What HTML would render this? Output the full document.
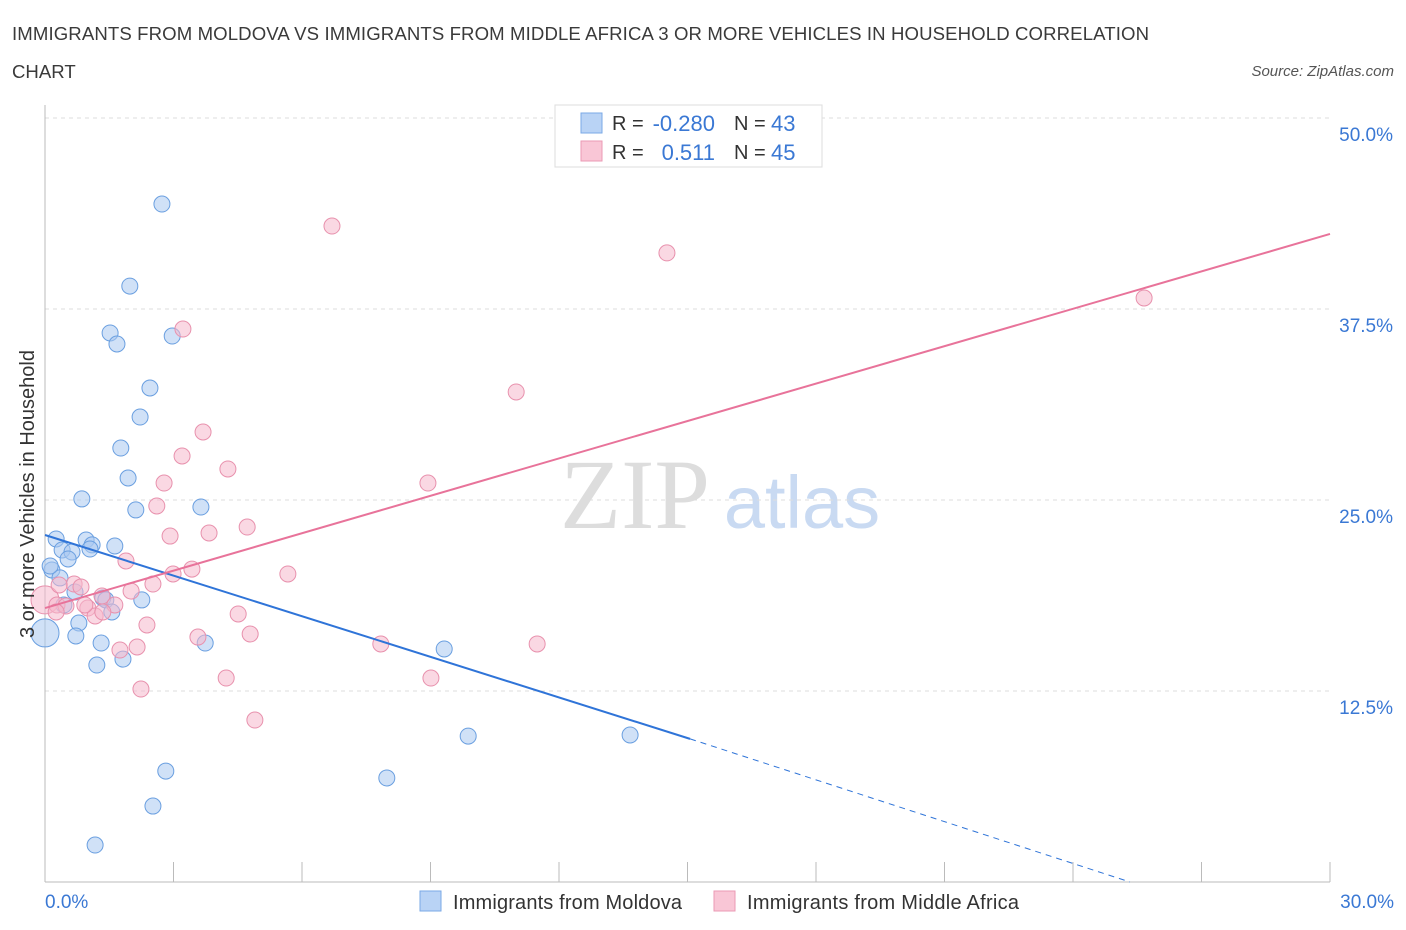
<!DOCTYPE html>
<html><head><meta charset="utf-8"><style>
body{margin:0;background:#fff;font-family:"Liberation Sans",sans-serif;}
svg{display:block}
</style></head><body>
<svg id="chart" width="1406" height="930">
<text x="12" y="40" font-size="18.6" fill="#3a3a3a" textLength="1137">IMMIGRANTS FROM MOLDOVA VS IMMIGRANTS FROM MIDDLE AFRICA 3 OR MORE VEHICLES IN HOUSEHOLD CORRELATION</text>
<text x="12" y="78" font-size="18.6" fill="#3a3a3a">CHART</text>
<text x="1394" y="76" font-size="15" fill="#555" font-style="italic" text-anchor="end">Source: ZipAtlas.com</text>
<text x="635" y="528" font-size="100" fill="#ddd" font-family="Liberation Serif,serif" text-anchor="middle">ZIP</text>
<text x="802" y="528" font-size="74" fill="#c9daf2" text-anchor="middle">atlas</text>
<g id="grid"></g><g id="marks"></g>
<text transform="translate(34,494) rotate(-90)" font-size="20" fill="#333" text-anchor="middle">3 or more Vehicles in Household</text>
<text x="45" y="908" font-size="19" fill="#3a78d4">0.0%</text>
<text x="1394" y="908" font-size="19" fill="#3a78d4" text-anchor="end">30.0%</text>
<g>
<rect x="555" y="105" width="267" height="62" fill="#fff" stroke="#ddd"/>
<rect x="581" y="113" width="21" height="20" fill="#b9d3f5" stroke="#7aa8e6"/>
<rect x="581" y="141" width="21" height="20" fill="#f9c6d6" stroke="#eb9ab4"/>
<text x="612" y="130" font-size="20" fill="#333">R =</text><text x="715" y="131" font-size="22" fill="#3a78d4" text-anchor="end">-0.280</text>
<text x="734" y="130" font-size="20" fill="#333">N =</text><text x="771" y="131" font-size="22" fill="#3a78d4">43</text>
<text x="612" y="159" font-size="20" fill="#333">R =</text><text x="715" y="160" font-size="22" fill="#3a78d4" text-anchor="end">0.511</text>
<text x="734" y="159" font-size="20" fill="#333">N =</text><text x="771" y="160" font-size="22" fill="#3a78d4">45</text>
</g>
<g>
<rect x="420" y="891" width="21" height="20" fill="#b9d3f5" stroke="#7aa8e6"/>
<text x="453" y="909" font-size="20" fill="#333" textLength="229">Immigrants from Moldova</text>
<rect x="714" y="891" width="21" height="20" fill="#f9c6d6" stroke="#eb9ab4"/>
<text x="747" y="909" font-size="20" fill="#333" textLength="272">Immigrants from Middle Africa</text>
</g>
</svg>
<script>
const yTicks=[12.5,25,37.5,50];
const yTickLabels=["12.5%","25.0%","37.5%","50.0%"];
const blueX=[2.73,1.98,1.52,1.68,2.97,2.45,2.22,1.77,1.94,0.86,2.12,3.64,0.26,0.40,0.63,0.54,0.96,1.10,1.05,1.63,0.16,0.35,0.70,1.35,1.42,2.26,1.56,0.44,0.79,0.72,0,1.31,3.74,1.21,1.82,9.32,9.88,13.66,2.82,7.98,2.52,1.17,0.12];
const blueY=[44.37,39.0,35.93,35.21,35.73,32.33,30.43,28.40,26.44,25.07,24.35,24.54,22.45,21.73,21.60,21.14,22.38,22.06,21.79,21.99,20.42,19.90,18.98,18.59,18.46,18.46,17.67,18.13,16.95,16.10,16.30,15.64,15.64,14.20,14.59,15.25,9.55,9.62,7.26,6.81,4.97,2.42,20.68];
const pinkX=[6.70,14.52,25.66,3.22,11.00,3.69,3.20,4.27,2.78,8.94,2.61,2.92,3.83,4.72,1.89,2.99,3.43,5.67,0.68,0.84,2.52,2.01,1.33,0,0.28,0.49,1.00,1.63,1.17,4.51,0.26,1.35,2.38,3.57,4.79,7.84,11.49,1.75,2.15,4.23,9.01,2.24,4.90,0.33,0.93];
const pinkY=[42.93,41.17,38.22,36.19,32.07,29.45,27.88,27.03,26.11,26.11,24.61,22.64,22.84,23.23,21.01,20.16,20.48,20.16,19.50,19.31,19.50,19.04,18.72,18.46,18.13,18.06,17.93,18.13,17.41,17.54,17.67,17.67,16.82,16.03,16.23,15.58,15.58,15.18,15.38,13.35,13.35,12.63,10.60,19.44,18.13];
const blueTrend=[22.71,-0.886,15.06,25.33]; // intercept, slope, solid end, dashed end
const pinkTrend=[17.93,0.8160];
const X=v=>45+v*1285/30, Y=v=>882-v*764/50;
const NS="http://www.w3.org/2000/svg";
const grid=document.getElementById('grid'), marks=document.getElementById('marks');
function mk(p,tag,a){const e=document.createElementNS(NS,tag);for(const k in a)e.setAttribute(k,a[k]);p.appendChild(e);return e;}
yTicks.forEach((t,i)=>{
 const l=mk(grid,'line',{x1:45,x2:1330,y1:Y(t),y2:Y(t),stroke:'#ddd','stroke-dasharray':'4,4'});
 
 
 const tx=mk(grid,'text',{x:1393,y:Y(t)+23,'font-size':19,fill:'#3a78d4','text-anchor':'end'});tx.textContent=yTickLabels[i];
 
 
});
const ax=mk(grid,'line',{x1:45,x2:45,y1:105,y2:882,stroke:'#bbb'});


const bx=mk(grid,'line',{x1:45,x2:1330,y1:882,y2:882,stroke:'#bbb'});


for(let i=0;i<=10;i++){const t=mk(grid,'line',{x1:X(i*3),x2:X(i*3),y1:862,y2:882,stroke:'#bbb'});
 
 }
function pts(xs,ys,fill,stroke,name){xs.forEach((x,i)=>{const r=x===0?14:8;
 const c=mk(marks,'circle',{cx:X(x),cy:Y(ys[i]),r:r,fill:fill,'fill-opacity':0.55,stroke:stroke,'stroke-width':1});
 
 });}
pts(blueX,blueY,'#a9c8f0','#6a9fe0','moldova-point');
pts(pinkX,pinkY,'#f5b8cc','#e891ad','middle-africa-point');
const bEnd=blueTrend[2], bZero=blueTrend[3];
const l1=mk(marks,'line',{x1:X(0),y1:Y(blueTrend[0]),x2:X(bEnd),y2:Y(blueTrend[0]+blueTrend[1]*bEnd),stroke:'#2f74d8','stroke-width':2});


const l2=mk(marks,'line',{x1:X(bEnd),y1:Y(blueTrend[0]+blueTrend[1]*bEnd),x2:X(bZero),y2:Y(0),stroke:'#2f74d8','stroke-width':1,'stroke-dasharray':'6,5'});


const l3=mk(marks,'line',{x1:X(0),y1:Y(pinkTrend[0]),x2:X(30),y2:Y(pinkTrend[0]+pinkTrend[1]*30),stroke:'#e8739a','stroke-width':2});


</script>
</body></html>
